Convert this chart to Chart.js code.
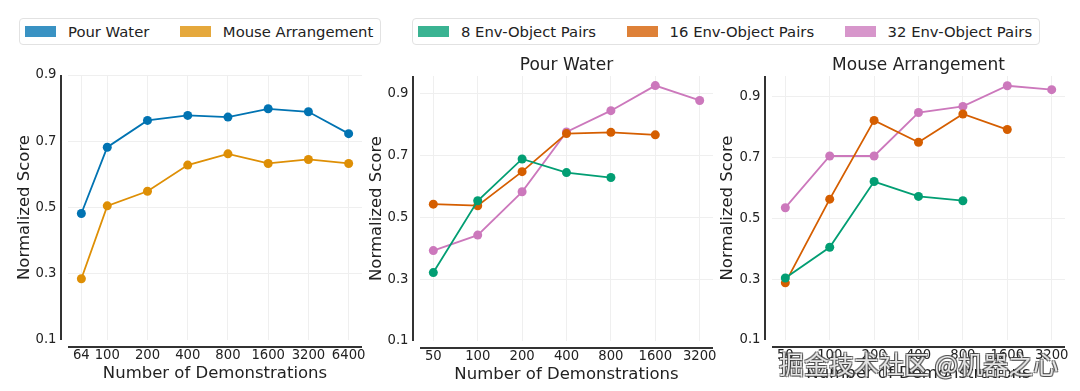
<!DOCTYPE html>
<html>
<head>
<meta charset="utf-8">
<script src="https://cdn.jsdelivr.net/npm/chart.js@4.4.1/dist/chart.umd.min.js"></script>
<style>
  body { margin: 0; background: #fff; width: 1080px; height: 391px; position: relative; overflow: hidden; font-family: 'DejaVu Sans', sans-serif; }
  canvas { position: absolute; left: 0; top: 0; }
  .legend { position: absolute; top: 18px; height: 27px; box-sizing: border-box; border: 1px solid #e2e2e2; border-radius: 4px; background: #fff;
            display: inline-flex; align-items: center; padding: 0 7px 0 5px; gap: 30.5px; font-size: 14.8px; color: #222; white-space: nowrap; }
  .legend span.item { display: inline-flex; align-items: center; }
  .legend i { display: inline-block; width: 31px; height: 11px; margin-right: 12px; }
  #wm { position: absolute; left: 779px; top: 345px; font-family: 'Noto Sans CJK SC', sans-serif; font-size: 25px; white-space: nowrap;
        color: rgba(255,255,255,0.85);
        text-shadow: -1px -1px 0 rgba(60,60,60,0.7), 1px -1px 0 rgba(60,60,60,0.7), -1px 1px 0 rgba(60,60,60,0.7), 1px 1px 0 rgba(60,60,60,0.7); }
</style>
</head>
<body>
<div class="legend" id="leg1" style="left:19px"></div>
<div class="legend" id="leg2" style="left:412px"></div>
<canvas id="c1" width="1080" height="391"></canvas>
<canvas id="c2" width="1080" height="391"></canvas>
<canvas id="c3" width="1080" height="391"></canvas>
<div id="wm">掘金技术社区 @机器之心</div>
<script>
// left panel: both tasks
const demosA = [64, 100, 200, 400, 800, 1600, 3200, 6400];
const pourWater = [0.482, 0.682, 0.763, 0.778, 0.773, 0.798, 0.789, 0.723];
const mouseArrangement = [0.285, 0.505, 0.549, 0.628, 0.662, 0.633, 0.645, 0.633];

// right panels: number of env-object pairs
const demosB = [50, 100, 200, 400, 800, 1600, 3200];
const pour8 = [0.321, 0.553, 0.688, 0.644, 0.628];
const pour16 = [0.542, 0.537, 0.647, 0.770, 0.774, 0.766];
const pour32 = [0.392, 0.442, 0.582, 0.775, 0.844, 0.925, 0.877];
const mouse8 = [0.304, 0.405, 0.621, 0.572, 0.558];
const mouse16 = [0.288, 0.563, 0.822, 0.750, 0.843, 0.792];
const mouse32 = [0.535, 0.705, 0.705, 0.848, 0.868, 0.936, 0.923];

const yTicks = [0.1, 0.3, 0.5, 0.7, 0.9];
const taskNames = ['Pour Water', 'Mouse Arrangement'];
const pairNames = ['8 Env-Object Pairs', '16 Env-Object Pairs', '32 Env-Object Pairs'];

const taskColors = ['#0173b2', '#de8f05'];
const pairColors = ['#029e73', '#d55e00', '#cc78bc'];

Chart.defaults.font.family = "'DejaVu Sans', sans-serif";
Chart.defaults.color = '#222';

function hexA(hex, a) {
  const n = parseInt(hex.slice(1), 16);
  return 'rgba(' + (n >> 16) + ',' + ((n >> 8) & 255) + ',' + (n & 255) + ',' + a + ')';
}

// legends
function fillLegend(id, names, colors) {
  const el = document.getElementById(id);
  names.forEach((n, i) => {
    const s = document.createElement('span');
    s.className = 'item';
    s.innerHTML = '<i style="background:' + hexA(colors[i], 0.78) + '"></i>' + n;
    el.appendChild(s);
  });
}
fillLegend('leg1', taskNames, taskColors);
fillLegend('leg2', pairNames, pairColors);

// despined axis lines, drawn a bit away from the plot area
const axisLines = {
  id: 'axisLines',
  beforeDatasetsDraw(chart) {
    const a = chart.chartArea, ctx = chart.ctx;
    ctx.save();
    ctx.strokeStyle = '#333';
    ctx.lineWidth = 2;
    ctx.beginPath();
    ctx.moveTo(a.left - 7, a.top);
    ctx.lineTo(a.left - 7, a.bottom);
    ctx.moveTo(a.left, a.bottom + 7);
    ctx.lineTo(a.right, a.bottom + 7);
    ctx.stroke();
    ctx.restore();
  }
};

function series(label, xs, ys, color) {
  return {
    label: label,
    data: ys.map((y, i) => ({ x: xs[i], y: y })),
    borderColor: color,
    backgroundColor: color,
    pointBackgroundColor: color,
    borderWidth: 1.8,
    pointRadius: 4.5,
    pointBorderWidth: 0,
    tension: 0
  };
}

function makePanel(id, o) {
  new Chart(document.getElementById(id), {
    type: 'line',
    data: { datasets: o.datasets },
    options: {
      responsive: false,
      animation: false,
      layout: { padding: o.pad },
      plugins: {
        legend: { display: false },
        tooltip: { enabled: false },
        title: {
          display: !!o.title, text: o.title, fullSize: false,
          font: { size: 17, weight: 'normal' }, color: '#222', padding: 0
        }
      },
      scales: {
        x: {
          type: 'logarithmic',
          min: o.xmin, max: o.xmax,
          afterBuildTicks: s => { s.ticks = o.xticks.map(v => ({ value: v })); },
          afterFit: s => { s.height = 44; },
          ticks: { callback: v => String(v), autoSkip: false, maxRotation: 0, padding: 8, font: { size: 13.2 }, color: '#222' },
          grid: { color: '#efefef', drawTicks: false },
          border: { display: false },
          title: { display: true, text: 'Number of Demonstrations', font: { size: 16.5 }, padding: 0, color: '#222' }
        },
        y: {
          min: 0.1, max: o.ymax,
          afterBuildTicks: s => { s.ticks = yTicks.map(v => ({ value: v })); },
          afterFit: s => { s.width = o.yw; },
          ticks: { callback: v => v.toFixed(1), padding: 11.5, font: { size: 13.2 }, color: '#222' },
          grid: { color: c => (c.tick && c.tick.value === 0.1) ? 'rgba(0,0,0,0)' : '#efefef', drawTicks: false },
          border: { display: false },
          title: { display: true, text: 'Normalized Score', font: { size: 16.5 }, padding: 0, color: '#222' }
        }
      }
    },
    plugins: [axisLines]
  });
}

const mA = Math.pow(2, 0.05 * Math.log2(6400 / 64));
const mB = Math.pow(2, 0.05 * Math.log2(3200 / 50));

makePanel('c1', {
  datasets: [
    series(taskNames[0], demosA, pourWater, taskColors[0]),
    series(taskNames[1], demosA, mouseArrangement, taskColors[1])
  ],
  xmin: 64 / mA, xmax: 6400 * mA, xticks: demosA, ymax: 0.9, yw: 53,
  pad: { left: 15, right: 718, top: 75, bottom: 7 }
});

makePanel('c2', {
  title: 'Pour Water',
  datasets: [
    series(pairNames[0], demosB, pour8, pairColors[0]),
    series(pairNames[1], demosB, pour16, pairColors[1]),
    series(pairNames[2], demosB, pour32, pairColors[2])
  ],
  xmin: 50 / mB, xmax: 3200 * mB, xticks: demosB, ymax: 0.956, yw: 53,
  pad: { left: 367, right: 367, top: 55.6, bottom: 6 }
});

makePanel('c3', {
  title: 'Mouse Arrangement',
  datasets: [
    series(pairNames[0], demosB, mouse8, pairColors[0]),
    series(pairNames[1], demosB, mouse16, pairColors[1]),
    series(pairNames[2], demosB, mouse32, pairColors[2])
  ],
  xmin: 50 / mB, xmax: 3200 * mB, xticks: demosB, ymax: 0.968, yw: 54,
  pad: { left: 718, right: 15, top: 55.6, bottom: 7 }
});
</script>
</body>
</html>
